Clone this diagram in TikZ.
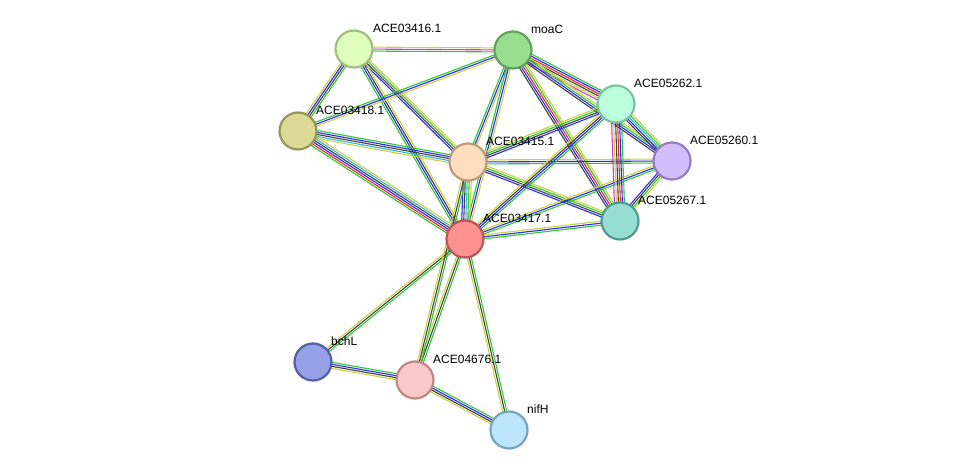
\documentclass[tikz,border=0pt]{standalone}
\usepackage{fontspec}
\setmainfont{Liberation Sans}
\usetikzlibrary{calc}
\definecolor{cT}{HTML}{C8D23C}
\definecolor{cG}{HTML}{2EC72E}
\definecolor{cB}{HTML}{2828F0}
\definecolor{cK}{HTML}{404040}
\definecolor{cR}{HTML}{F02828}
\definecolor{cM}{HTML}{D23CD2}
\definecolor{cC}{HTML}{30B4D8}
\newcommand{\E}[4]{%
  \foreach \cc [count=\ii] in {#4} {
    \pgfmathsetmacro{\oo}{2.0*(\ii-0.5*#3-0.5)}
    \draw[line width=1.1pt,\cc] ($(#1)!\oo pt!90:(#2)$) -- ($(#2)!\oo pt!-90:(#1)$);
  }}
\tikzset{prot/.style={circle,minimum size=37pt,inner sep=0pt,line width=2.2pt},
  lab/.style={anchor=west,font=\fontsize{12}{14}\selectfont,text=black,inner sep=0pt}}
\begin{document}
\begin{tikzpicture}[x=1pt,y=-1pt]
\useasboundingbox (0,0) rectangle (975,476);
\coordinate (a16) at (354,49);
\coordinate (moa) at (513,50);
\coordinate (b62) at (616,104);
\coordinate (a18) at (298,131);
\coordinate (a15) at (468,162);
\coordinate (b60) at (672,161);
\coordinate (b67) at (620,221);
\coordinate (a17) at (465,239);
\coordinate (bch) at (313,362);
\coordinate (c76) at (415,380);
\coordinate (nif) at (509,430);
\E{a16}{moa}{3}{cG,cM,cT}
\E{a16}{a18}{4}{cT,cB,cK,cG}
\E{a16}{a15}{4}{cB,cK,cG,cT}
\E{a16}{a17}{4}{cG,cB,cK,cT}
\E{moa}{a18}{3}{cG,cB,cT}
\E{moa}{a15}{3}{cG,cB,cT}
\E{moa}{a17}{3}{cG,cB,cT}
\E{moa}{b62}{6}{cM,cT,cK,cR,cB,cG}
\E{moa}{b60}{4}{cK,cB,cG,cT}
\E{moa}{b67}{5}{cK,cB,cR,cG,cT}
\E{a18}{a15}{5}{cT,cC,cK,cB,cG}
\E{a18}{a17}{6}{cG,cR,cB,cK,cC,cT}
\E{a15}{b62}{4}{cB,cK,cG,cT}
\E{a15}{b60}{3}{cG,cB,cT}
\E{a15}{b67}{4}{cB,cK,cG,cT}
\E{a15}{a17}{5}{cB,cK,cC,cG,cT}
\E{a17}{b62}{4}{cG,cB,cK,cT}
\E{a17}{b60}{3}{cG,cB,cT}
\E{a17}{b67}{3}{cG,cB,cT}
\E{b62}{b60}{5}{cK,cB,cC,cG,cT}
\E{b62}{b67}{6}{cM,cT,cK,cR,cB,cG}
\E{b60}{b67}{4}{cB,cK,cG,cT}
\E{a17}{bch}{3}{cT,cK,cG}
\E{a17}{c76}{3}{cT,cK,cG}
\E{a15}{c76}{3}{cT,cK,cG}
\E{a17}{nif}{3}{cT,cK,cG}
\E{bch}{c76}{4}{cT,cK,cB,cG}
\E{c76}{nif}{4}{cT,cK,cB,cG}
\node[prot,fill={rgb,255:red,221;green,255;blue,187},draw={rgb,255:red,160;green,190;blue,130}] (n16) at (a16) {};
\node[prot,fill={rgb,255:red,153;green,221;blue,145},draw={rgb,255:red,100;green,160;blue,95}] (nmoa) at (moa) {};
\node[prot,fill={rgb,255:red,187;green,255;blue,221},draw={rgb,255:red,125;green,195;blue,160}] (n62) at (b62) {};
\node[prot,fill={rgb,255:red,221;green,218;blue,150},draw={rgb,255:red,150;green,150;blue,90}] (n18) at (a18) {};
\node[prot,fill={rgb,255:red,255;green,221;blue,190},draw={rgb,255:red,190;green,155;blue,125}] (n15) at (a15) {};
\node[prot,fill={rgb,255:red,210;green,190;blue,250},draw={rgb,255:red,150;green,125;blue,195}] (n60) at (b60) {};
\node[prot,fill={rgb,255:red,150;green,221;blue,210},draw={rgb,255:red,80;green,155;blue,145}] (n67) at (b67) {};
\node[prot,fill={rgb,255:red,255;green,145;blue,145},draw={rgb,255:red,190;green,85;blue,85}] (n17) at (a17) {};
\node[prot,fill={rgb,255:red,150;green,160;blue,230},draw={rgb,255:red,85;green,95;blue,165}] (nbch) at (bch) {};
\node[prot,fill={rgb,255:red,250;green,200;blue,200},draw={rgb,255:red,190;green,135;blue,135}] (n76) at (c76) {};
\node[prot,fill={rgb,255:red,190;green,230;blue,250},draw={rgb,255:red,120;green,165;blue,190}] (nnif) at (nif) {};
\node[lab] (l16) at ($(a16)+(19,-21)$) {ACE03416.1};
\node[lab] (lmoa) at ($(moa)+(18,-21)$) {moaC};
\node[lab] (l62) at ($(b62)+(18,-21)$) {ACE05262.1};
\node[lab] (l18) at ($(a18)+(18,-21)$) {ACE03418.1};
\node[lab] (l15) at ($(a15)+(18,-21)$) {ACE03415.1};
\node[lab] (l60) at ($(b60)+(18,-21)$) {ACE05260.1};
\node[lab] (l67) at ($(b67)+(18,-21)$) {ACE05267.1};
\node[lab] (l17) at ($(a17)+(18,-21)$) {ACE03417.1};
\node[lab] (lbch) at ($(bch)+(18,-21)$) {bchL};
\node[lab] (l76) at ($(c76)+(18,-21)$) {ACE04676.1};
\node[lab] (lnif) at ($(nif)+(18,-21)$) {nifH};
\end{tikzpicture}
\end{document}
